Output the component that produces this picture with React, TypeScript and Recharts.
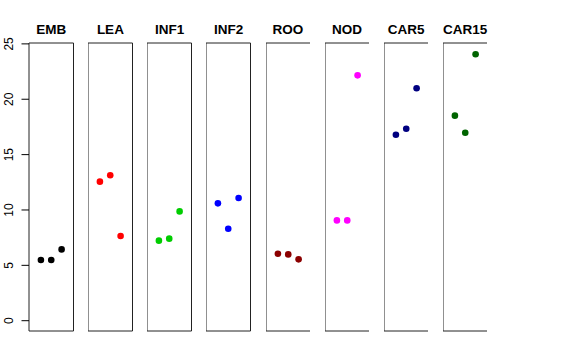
import React from "react";
import { ScatterChart, Scatter, XAxis, YAxis, ReferenceArea } from "recharts";

const groups = ["EMB", "LEA", "INF1", "INF2", "ROO", "NOD", "CAR5", "CAR15"];
const colors = ["#000000", "#FF0000", "#00CD00", "#0000FF", "#8B0000", "#FF00FF", "#000080", "#006400"];
const positions = [1, 2, 3];
const valEMB = [5.48, 5.48, 6.44];
const valLEA = [12.56, 13.13, 7.65];
const valINF1 = [7.23, 7.41, 9.87];
const valINF2 = [10.6, 8.31, 11.08];
const valROO = [6.05, 5.99, 5.54];
const valNOD = [9.06, 9.06, 22.16];
const valCAR5 = [16.8, 17.34, 20.99];
const valCAR15 = [18.52, 16.98, 24.06];
const yTicks = [0, 5, 10, 15, 20, 25];

const values = [valEMB, valLEA, valINF1, valINF2, valROO, valNOD, valCAR5, valCAR15];

const Y_DOMAIN: [number, number] = [-0.93, 25.08];
const X_DOMAIN: [number, number] = [-0.15, 4.15];
const FONT = "'Liberation Sans', Arial, Helvetica, sans-serif";

const PANEL_W = 44.5;
const FIRST_LEFT = 29;
const PITCH = 59.14;
const TOP = 43;
const BOTTOM = 29;
const H = 360;
const LABEL_X = 13.5;

const RotTick = (props: any) => {
  const { y, payload } = props;
  return (
    <text
      x={LABEL_X}
      y={y}
      transform={`rotate(-90, ${LABEL_X}, ${y})`}
      textAnchor="middle"
      fontSize={12}
      fontFamily={FONT}
      fill="#000"
    >
      {payload.value}
    </text>
  );
};

function Panel({ idx }: { idx: number }) {
  const data = positions.map((x, i) => ({ x, y: values[idx][i] }));
  const first = idx === 0;
  const left = FIRST_LEFT + PITCH * idx;
  const chartLeft = first ? 0 : left;
  const width = first ? FIRST_LEFT + PANEL_W : PANEL_W;
  return (
    <div style={{ position: "absolute", left: chartLeft, top: 0, width, height: H }}>
      <ScatterChart width={width} height={H} margin={{ top: TOP, bottom: BOTTOM, left: 0, right: 0 }}>
        <XAxis type="number" dataKey="x" domain={X_DOMAIN} hide allowDataOverflow />
        <YAxis
          type="number"
          dataKey="y"
          domain={Y_DOMAIN}
          ticks={yTicks}
          allowDataOverflow
          hide={!first}
          width={FIRST_LEFT}
          axisLine={false}
          tickLine={{ stroke: "#000" }}
          tickSize={7.5}
          tick={<RotTick />}
          interval={0}
        />
        <ReferenceArea
          x1={X_DOMAIN[0]}
          x2={X_DOMAIN[1]}
          y1={Y_DOMAIN[0]}
          y2={Y_DOMAIN[1]}
          fill="none"
          fillOpacity={0}
          stroke="#222"
          strokeWidth={1}
          ifOverflow="visible"
        />
        <Scatter
          data={data}
          fill={colors[idx]}
          isAnimationActive={false}
          shape={(p: any) => <circle cx={p.cx} cy={p.cy} r={3.3} fill={colors[idx]} />}
        />
      </ScatterChart>
    </div>
  );
}

export default function App() {
  return (
    <div style={{ position: "absolute", left: 0, top: 0, width: 576, height: 360, background: "#fff" }}>
      {groups.map((g, i) => (
        <Panel key={g} idx={i} />
      ))}
      <svg width={576} height={60} style={{ position: "absolute", left: 0, top: 0, pointerEvents: "none" }}>
        {groups.map((g, i) => (
          <text
            key={g}
            x={FIRST_LEFT + PITCH * i + PANEL_W / 2}
            y={34}
            textAnchor="middle"
            fontSize={13.5}
            fontWeight="bold"
            fontFamily={FONT}
            fill="#000"
          >
            {g}
          </text>
        ))}
      </svg>
    </div>
  );
}
